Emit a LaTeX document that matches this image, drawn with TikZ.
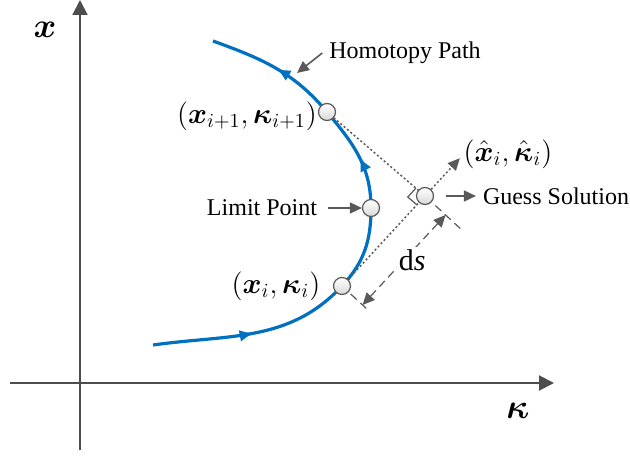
\documentclass[tikz,border=0pt]{standalone}
\usepackage{amsmath,amssymb}
\usepackage{fontspec}
\setmainfont{Liberation Serif}
\usetikzlibrary{arrows.meta,positioning,calc,backgrounds,decorations.markings}
\definecolor{pathblue}{RGB}{0,112,192}
\definecolor{axisgray}{RGB}{77,77,77}
\definecolor{markgray}{RGB}{89,89,89}
\newcommand{\bx}{\boldsymbol{x}}
\newcommand{\bk}{\boldsymbol{\kappa}}

\begin{document}
\begin{tikzpicture}[
  x=0.5pt,y=0.5pt,
  >=Stealth,
  ptnode/.style={
    circle,draw=markgray,line width=0.6pt,
    top color=white,bottom color=gray!30,
    minimum size=8.5pt,inner sep=0pt
  },
  axis/.style={draw=axisgray,line width=1pt,-{Triangle[length=7.5pt,width=7.5pt]}},
  lbl/.style={font=\fontsize{12}{14}\selectfont},
  mathlbl/.style={font=\fontsize{14}{17}\selectfont},
  axlbl/.style={font=\fontsize{19}{23}\selectfont},
  lblarrow/.style={draw=markgray,line width=0.8pt,-{Triangle[length=6pt,width=5.5pt]}},
  guide/.style={draw=markgray,line width=0.75pt,dash pattern=on 1pt off 1.2pt},
  dimline/.style={draw=markgray,line width=0.6pt,dash pattern=on 4pt off 2.5pt},
  homotopy/.style={
    color=pathblue,line width=1.6pt,
    postaction={decorate},
    decoration={markings,
      mark=at position 0.19 with {\arrow{Latex[length=7pt,width=6pt]}},
      mark=at position 0.64 with {\arrow{Latex[length=7pt,width=6pt]}},
      mark=at position 0.87 with {\arrow{Latex[length=7pt,width=6pt]}}}
  }
]
\useasboundingbox (0,0) rectangle (630,455);

% ---- axes ----
\coordinate (yB) at (80,5);
\coordinate (yT) at (80,455);
\coordinate (xL) at (10,72);
\coordinate (xR) at (554,72);
\draw[axis] (yB) -- (yT);
\draw[axis] (xL) -- (xR);
\node[axlbl] (lblX) at (45,425) {$\bx$};
\node[axlbl] (lblK) at (518,44) {$\bk$};

% ---- points on the path and the guess ----
\node[ptnode] (pi) at (342,169) {};
\node[ptnode] (lp) at (371,247) {};
\node[ptnode] (pn) at (327,343) {};
\node[ptnode] (gs) at (425,259) {};
\coordinate (cS) at (153,110);
\coordinate (cE) at (213,414);

\begin{scope}[on background layer]
  \draw[homotopy] (cS) to[out=8,in=227] (pi.center)
    to[out=47,in=270] (lp.center)
    to[out=90,in=310] (pn.center)
    to[out=130,in=340] (cE);
  \draw[guide] (pn.center) -- (gs.center);
  \draw[guide] (pi.center) -- (gs.center);
  % right angle mark
  \coordinate (ra1) at ($(gs.center)!6pt!(pn.center)$);
  \coordinate (ra2) at ($(gs.center)!6pt!(pi.center)$);
  \draw[markgray,line width=0.6pt] (ra1) -- ($(ra1)+(ra2)-(gs.center)$) -- (ra2);
\end{scope}

% ---- predictor direction ----
\coordinate (hatTip) at ($(pi.center)!1.42!(gs.center)$);
\draw[guide,-{Triangle[length=6pt,width=5.5pt]}] (gs) -- (hatTip);

% ---- step length ds ----
\coordinate (extA1) at ($(pi.center)!6pt!-90:(gs.center)$);
\coordinate (extA2) at ($(pi.center)!19pt!-90:(gs.center)$);
\coordinate (extB1) at ($(gs.center)!7pt!90:(pi.center)$);
\coordinate (extB2) at ($(gs.center)!24pt!90:(pi.center)$);
\draw[dimline] (extA1) -- (extA2);
\draw[dimline] (extB1) -- (extB2);
\coordinate (dsA) at ($(pi.center)!14pt!-90:(gs.center)$);
\coordinate (dsB) at ($(gs.center)!14pt!90:(pi.center)$);
\draw[dimline,{Triangle[length=6pt,width=5.5pt]}-{Triangle[length=6pt,width=5.5pt]}]
  (dsA) -- node[fill=white,inner sep=1pt,xshift=4pt,font=\fontsize{15}{18}\selectfont] (lblDs) {d\textit{s}} (dsB);

% ---- labels ----
\node[mathlbl] (lblPn) at (247,339) {$(\bx_{i+1},\bk_{i+1})$};
\node[mathlbl] (lblPi) at (276,169) {$(\bx_{i},\bk_{i})$};
\node[mathlbl] (lblHat) at (508,301) {$(\hat{\bx}_{i},\hat{\bk}_{i})$};
\node[lbl] (lblLp) at (262,247) {Limit Point};
\node[lbl] (lblGs) at (556,259) {Guess Solution};
\node[lbl] (lblHp) at (405,402) {Homotopy Path};

\coordinate (hpTip) at (297,382);
\draw[lblarrow] (lblHp.west) -- (hpTip);
\draw[lblarrow,shorten <=2pt] (lblLp.east) -- (lp.west);
\draw[lblarrow,shorten <=6pt] (gs.east) -- (lblGs.west);

\end{tikzpicture}
\end{document}
